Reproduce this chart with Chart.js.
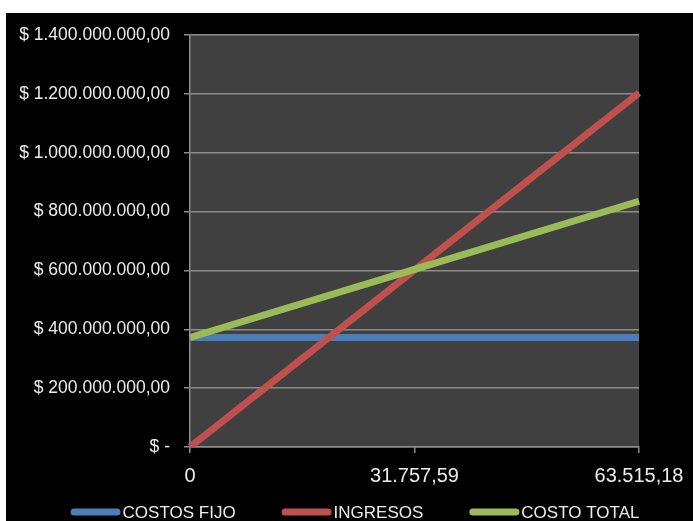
<!DOCTYPE html>
<html>
<head>
<meta charset="utf-8">
<script src="https://cdn.jsdelivr.net/npm/chart.js@4/dist/chart.umd.min.js"></script>
<style>
  html, body { margin: 0; padding: 0; background: #ffffff; overflow: hidden; }
  #wrap { position: absolute; left: 6px; top: 13px; width: 687px; height: 508px; background: #000000; }
  canvas { display: block; }
</style>
</head>
<body>
<div id="wrap"><canvas id="chart" width="687" height="508"></canvas></div>
<script>
// Punto de equilibrio: unidades vs. pesos
const categories = ['0', '31.757,59', '63.515,18'];
const costosFijo = [372000000, 372000000, 372000000];
const ingresos   = [0, 601500000, 1203000000];
const costoTotal = [372000000, 603500000, 835000000];

const yTickValues = [0, 200000000, 400000000, 600000000, 800000000, 1000000000, 1200000000, 1400000000];
const yTickLabels = ['$ -', '$ 200.000.000,00', '$ 400.000.000,00', '$ 600.000.000,00',
                     '$ 800.000.000,00', '$ 1.000.000.000,00', '$ 1.200.000.000,00', '$ 1.400.000.000,00'];

const seriesNames  = ['COSTOS FIJO', 'INGRESOS', 'COSTO TOTAL'];
const seriesColors = ['#4a7ebb', '#c0504d', '#9bbb59'];

const fontFamily = '"Liberation Sans", Arial, sans-serif';
const textColor = '#ececec';

const plotBackground = {
  id: 'plotBackground',
  beforeDraw(chart) {
    const { ctx, chartArea: a } = chart;
    ctx.save();
    ctx.fillStyle = '#000000';
    ctx.fillRect(0, 0, chart.width, chart.height);
    ctx.fillStyle = '#404040';
    ctx.fillRect(a.left, a.top, a.right - a.left, a.bottom - a.top);
    ctx.restore();
  }
};

// Single-row legend under the axis: long rounded swatch, text right after it
const lineLegend = {
  id: 'lineLegend',
  afterDraw(chart, args, opts) {
    const { ctx } = chart;
    const sw = opts.swatchWidth, sh = opts.swatchHeight;
    ctx.save();
    ctx.font = opts.fontSize + 'px ' + fontFamily;
    ctx.textBaseline = 'middle';
    const items = chart.data.datasets.map(ds => ({
      text: ds.label, color: ds.borderColor, w: ctx.measureText(ds.label).width
    }));
    const total = items.reduce((s, it) => s + sw + opts.textGap + it.w, 0) + opts.itemGap * (items.length - 1);
    let x = opts.centerX - total / 2;
    const y = opts.y;
    items.forEach(it => {
      ctx.fillStyle = it.color;
      ctx.beginPath();
      ctx.roundRect(x, y - sh / 2, sw, sh, sh / 2);
      ctx.fill();
      x += sw + opts.textGap;
      ctx.fillStyle = textColor;
      ctx.fillText(it.text, x, y + 1);
      x += it.w + opts.itemGap;
    });
    ctx.restore();
  }
};

const seriesData = [costosFijo, ingresos, costoTotal];
// later series sit on top of earlier ones
const drawOrder = [2, 1, 0];

new Chart(document.getElementById('chart'), {
  type: 'line',
  data: {
    labels: categories,
    datasets: seriesNames.map((name, i) => ({
      label: name,
      data: seriesData[i],
      borderColor: seriesColors[i],
      backgroundColor: seriesColors[i],
      borderWidth: 7,
      pointRadius: 0,
      tension: 0,
      fill: false,
      order: drawOrder[i]
    }))
  },
  options: {
    responsive: false,
    animation: false,
    layout: { padding: { left: 0, top: 22, right: 54, bottom: 0 } },
    plugins: {
      tooltip: { enabled: false },
      legend: { display: false },
      lineLegend: {
        centerX: 349, y: 499, fontSize: 17,
        swatchWidth: 50, swatchHeight: 7, textGap: 2, itemGap: 46
      }
    },
    scales: {
      x: {
        type: 'category',
        offset: false,
        grid: {
          drawOnChartArea: false,
          drawTicks: true,
          tickLength: 6,
          tickColor: '#8c8c8c',
          lineWidth: 1.5
        },
        border: { color: '#8c8c8c', width: 1.5 },
        ticks: {
          color: textColor,
          font: { family: fontFamily, size: 20 },
          padding: 11,
          maxRotation: 0,
          autoSkip: false
        },
        afterFit(scale) {
          scale.height = 74;
          scale.paddingLeft = 0;
          scale.paddingRight = 0;
        }
      },
      y: {
        min: 0,
        max: 1400000000,
        afterBuildTicks(scale) {
          scale.ticks = yTickValues.map(v => ({ value: v }));
        },
        grid: {
          color: '#8c8c8c',
          lineWidth: 1.5,
          tickLength: 6,
          tickColor: '#8c8c8c'
        },
        border: { color: '#8c8c8c', width: 1.5 },
        ticks: {
          color: textColor,
          font: { family: fontFamily, size: 17.5 },
          padding: 14,
          callback(value) {
            const idx = yTickValues.indexOf(value);
            return idx >= 0 ? yTickLabels[idx] : '';
          }
        },
        afterFit(scale) {
          scale.width = 184;
          scale.paddingTop = 0;
          scale.paddingBottom = 0;
        }
      }
    }
  },
  plugins: [plotBackground, lineLegend]
});
</script>
</body>
</html>
